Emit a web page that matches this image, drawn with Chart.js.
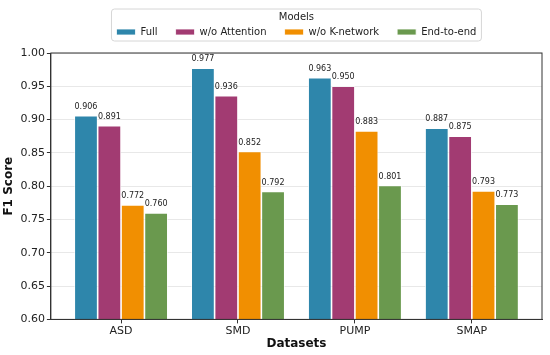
<!DOCTYPE html>
<html>
<head>
<meta charset="utf-8">
<script src="https://cdn.jsdelivr.net/npm/chart.js@4"></script>
<style>
  html, body { margin: 0; padding: 0; background: #fff; }
  #wrap { width: 550px; height: 355px; }
</style>
</head>
<body>
<div id="wrap"><canvas id="myChart_1" width="550" height="355"></canvas></div>
<script>
// data
const datasetsNames = ["ASD", "SMD", "PUMP", "SMAP"];
const modelNames = ["Full", "w/o Attention", "w/o K-network", "End-to-end"];
const fullScores = [0.906, 0.977, 0.963, 0.887];
const noAttentionScores = [0.891, 0.936, 0.950, 0.875];
const noKnetScores = [0.772, 0.852, 0.883, 0.793];
const endToEndScores = [0.760, 0.792, 0.801, 0.773];
const yTicks = [0.60, 0.65, 0.70, 0.75, 0.80, 0.85, 0.90, 0.95, 1.00];

const colors = ["#2E86AB", "#A23B72", "#F18F01", "#6A994E"];
const allScores = [fullScores, noAttentionScores, noKnetScores, endToEndScores];

Chart.defaults.font.family = "'DejaVu Sans', sans-serif";
Chart.defaults.color = "#222";

// put scores on x = 0..3 so the axis can keep matplotlib-like side margins
function toPoints(arr) {
  return arr.map((v, i) => ({ x: i, y: v }));
}

// value labels above the bars
const barLabels = {
  id: "barLabels",
  afterDatasetsDraw(chart) {
    const c = chart.ctx;
    c.save();
    c.font = "8px 'DejaVu Sans', sans-serif";
    c.fillStyle = "#222";
    c.textAlign = "center";
    c.textBaseline = "alphabetic";
    chart.data.datasets.forEach((ds, di) => {
      chart.getDatasetMeta(di).data.forEach((bar, i) => {
        c.fillText(ds.data[i].y.toFixed(3), bar.x, bar.y - 7);
      });
    });
    c.restore();
  },
};

// centre legend over the plot area, then draw frames
const frames = {
  id: "frames",
  afterLayout(chart) {
    const lg = chart.legend;
    const a = chart.chartArea;
    lg.left = a.left;
    lg.right = a.right;
    lg.width = a.right - a.left;
  },
  afterDraw(chart) {
    const c = chart.ctx;
    const a = chart.chartArea;
    c.save();
    c.strokeStyle = "#333";
    c.lineWidth = 1;
    c.strokeRect(a.left, a.top, a.right - a.left, a.bottom - a.top);

    const lg = chart.legend;
    if (lg && lg.legendHitBoxes.length) {
      let l = Infinity, r = -Infinity, b = 0;
      lg.legendHitBoxes.forEach((h) => {
        l = Math.min(l, h.left);
        r = Math.max(r, h.left + h.width);
        b = Math.max(b, h.top + h.height);
      });
      c.strokeStyle = "#d6d6d6";
      c.beginPath();
      c.roundRect(l - 5, lg.top + 5, r - l + 10, b + 4 - (lg.top + 5), 3);
      c.stroke();
    }
    c.restore();
  },
};

const config = {
  type: "bar",
  data: {
    datasets: modelNames.map((name, k) => ({
      label: name,
      data: toPoints(allScores[k]),
      xAxisID: "x",
      yAxisID: "y",
      backgroundColor: colors[k],
      borderColor: "#ffffff",
      borderWidth: 0.8,
      categoryPercentage: 0.8,
      barPercentage: 1.0,
    })),
  },
  options: {
    responsive: false,
    animation: false,
    layout: { padding: { left: 2, right: 8, top: 4, bottom: 0 } },
    plugins: {
      legend: {
        position: "top",
        title: {
          display: true,
          text: "Models",
          font: { size: 10 },
          padding: { top: 8, bottom: -15 },
        },
        labels: {
          boxWidth: 19,
          boxHeight: 6,
          padding: 18,
          font: { size: 10 },
          color: "#222",
        },
      },
      tooltip: { enabled: false },
    },
    scales: {
      x: {
        type: "linear",
        offset: false,
        min: -0.6,
        max: 3.6,
        afterBuildTicks(axis) {
          axis.ticks = datasetsNames.map((_, i) => ({ value: i }));
        },
        ticks: {
          callback: (v) => datasetsNames[v],
          font: { size: 11 },
          color: "#222",
          padding: 1,
        },
        grid: {
          offset: false,
          drawOnChartArea: false,
          tickLength: 4,
          tickColor: "#333",
        },
        border: { color: "#333" },
        title: {
          display: true,
          text: "Datasets",
          font: { size: 12, weight: "bold" },
          color: "#111",
          padding: { top: -2, bottom: 4 },
        },
      },
      // empty spacer between legend and plot
      gap: {
        type: "linear",
        axis: "x",
        position: "top",
        display: true,
        ticks: { display: false },
        grid: { display: false },
        border: { display: false },
        afterFit(axis) {
          axis.height = 6;
        },
      },
      y: {
        min: 0.6,
        max: 1.0,
        afterBuildTicks(axis) {
          axis.ticks = yTicks.map((v) => ({ value: v }));
        },
        ticks: {
          callback: (v) => v.toFixed(2),
          font: { size: 11 },
          color: "#222",
          padding: 2,
        },
        grid: {
          color: "rgba(0,0,0,0.09)",
          borderDash: [3, 3],
          tickBorderDash: [],
          tickColor: "#333",
          tickLength: 4,
        },
        border: { color: "#333" },
        title: {
          display: true,
          text: "F1 Score",
          font: { size: 12, weight: "bold" },
          color: "#111",
          padding: { top: 0, bottom: 2 },
        },
      },
    },
  },
  plugins: [barLabels, frames],
};

const myChart_1 = new Chart(document.getElementById("myChart_1").getContext("2d"), config);
</script>
</body>
</html>
